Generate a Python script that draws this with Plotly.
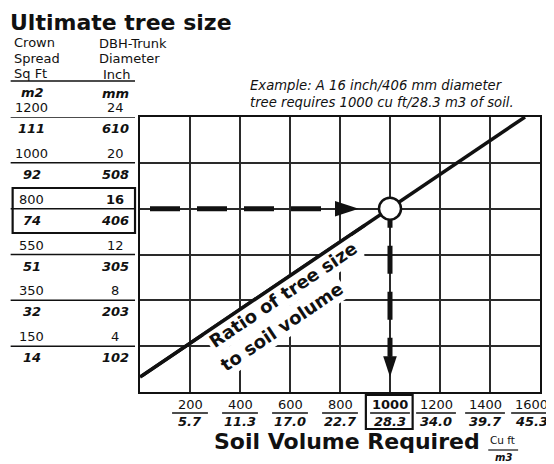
import numpy as np
import plotly.graph_objects as go

# ---------------- data ----------------
dbh_inch = [4, 8, 12, 16, 20, 24]
dbh_mm = [102, 203, 305, 406, 508, 610]
crown_sqft = [150, 350, 550, 800, 1000, 1200]
crown_m2 = [14, 32, 51, 74, 92, 111]
soil_cuft = [200, 400, 600, 800, 1000, 1200, 1400, 1600]
soil_m3 = [5.7, 11.3, 17.0, 22.7, 28.3, 34.0, 39.7, 45.3]
ratio_cuft = [0, 1540]
ratio_dbh = [1.3, 24]
example_cuft = 1000
example_dbh = 16
arrow_h_start_cuft = 40
arrow_h_tip_cuft = 875
arrow_v_tip_dbh = 1.3
ratio_label_lines = ["Ratio of tree size", "to soil volume"]
ratio_label_pos = [(573, 8.55), (567, 5.75)]   # (cu ft, inch) centre of each label line

# ---------------- layout constants ----------------
PAGE_OFF = 8                      # default body margin of the html page
W, H = 554 - PAGE_OFF, 464 - PAGE_OFF
PLOT_L, PLOT_R, PLOT_T, PLOT_B = 140, 542, 117, 392   # plot area in window px
ML, MT = PLOT_L - PAGE_OFF, PLOT_T - PAGE_OFF
MR, MB = W - (PLOT_R - PAGE_OFF), H - (PLOT_B - PAGE_OFF)
PW, PH = PLOT_R - PLOT_L, PLOT_B - PLOT_T
X_MAX, Y_MAX = 1600, 24
FONT = "DejaVu Sans"
INK = "#111111"
HEAD = 24  # arrow head length in px


def px(x):
    return (x - PLOT_L) / PW


def py(y):
    return (PLOT_B - y) / PH


def cap_y(cap_top, size):
    return py(cap_top - 0.2 * size)


fig = go.Figure()

# ratio line
fig.add_trace(go.Scatter(x=ratio_cuft, y=ratio_dbh, mode="lines",
                         line=dict(color=INK, width=3.5), hoverinfo="skip"))

# horizontal dashed arrow
h_end = arrow_h_tip_cuft - HEAD * X_MAX / PW
fig.add_trace(go.Scatter(x=[arrow_h_start_cuft, h_end], y=[example_dbh, example_dbh],
                         mode="lines", line=dict(color=INK, width=5, dash="30px,17px"),
                         hoverinfo="skip"))
fig.add_trace(go.Scatter(x=[arrow_h_tip_cuft], y=[example_dbh], mode="markers",
                         marker=dict(symbol="arrow", size=25, angle=90, color=INK),
                         hoverinfo="skip"))

# vertical dashed arrow
v_start = example_dbh + 9 * Y_MAX / PH
v_end = arrow_v_tip_dbh + HEAD * Y_MAX / PH * 0.85
fig.add_trace(go.Scatter(x=[example_cuft, example_cuft], y=[v_start, v_end],
                         mode="lines", line=dict(color=INK, width=5, dash="28px,18px"),
                         hoverinfo="skip"))
fig.add_trace(go.Scatter(x=[example_cuft], y=[arrow_v_tip_dbh], mode="markers",
                         marker=dict(symbol="arrow", size=22, angle=180, color=INK),
                         hoverinfo="skip"))

# example circle
fig.add_trace(go.Scatter(x=[example_cuft], y=[example_dbh], mode="markers",
                         marker=dict(symbol="circle", size=22, color="white",
                                     line=dict(color=INK, width=2.5)),
                         hoverinfo="skip"))

ann = []
shapes = []


def text(t, x, y, size, xanchor="left", yanchor="top", xref="paper", yref="paper",
         bold=False, italic=False, **kw):
    if bold:
        t = f"<b>{t}</b>"
    if italic:
        t = f"<i>{t}</i>"
    kw.setdefault("borderpad", 0)
    ann.append(dict(text=t, x=x, y=y, xref=xref, yref=yref, xanchor=xanchor,
                    yanchor=yanchor, showarrow=False,
                    font=dict(family=FONT, size=size, color=INK), **kw))


def hline_paper(x0, x1, y, width=1.5):
    shapes.append(dict(type="line", xref="paper", yref="paper", x0=px(x0), x1=px(x1),
                       y0=py(y), y1=py(y), line=dict(color=INK, width=width)))


# title
text("Ultimate tree size", px(PAGE_OFF), cap_y(13, 22), 22, bold=True)

# left header
text("Crown", px(12), cap_y(37, 13), 13)
text("Spread", px(12), cap_y(52.5, 13), 13)
text("Sq Ft", px(12), cap_y(68, 13), 13)
text("DBH-Trunk", px(98), cap_y(37.5, 13), 13)
text("Diameter", px(98), cap_y(53, 13), 13)
text("Inch", px(102), cap_y(68.5, 13), 13)
hline_paper(10, 135, 81)
text("m2", px(32), cap_y(87, 13), 13, xanchor="center", bold=True, italic=True)
text("mm", px(115), cap_y(88, 13), 13, xanchor="center", bold=True, italic=True)

# left value labels
for i, lvl in enumerate(dbh_inch):
    text(str(crown_sqft[i]), px(31), lvl, 13, xanchor="center", yanchor="bottom", yref="y",
         yshift=1)
    text(str(crown_m2[i]), px(31), lvl, 13, xanchor="center", yanchor="top", yref="y",
         bold=True, italic=True, yshift=-3)
    text(str(dbh_inch[i]), px(115), lvl, 13, xanchor="center", yanchor="bottom", yref="y",
         bold=(lvl == example_dbh), yshift=1)
    text(str(dbh_mm[i]), px(115), lvl, 13, xanchor="center", yanchor="top", yref="y",
         bold=True, italic=True, yshift=-3)
    shapes.append(dict(type="line", xref="paper", yref="y", x0=px(10), x1=px(135),
                       y0=lvl, y1=lvl, line=dict(color=INK, width=1.5)))

# box around example row on left
shapes.append(dict(type="rect", xref="paper", yref="paper", x0=px(12), x1=px(135),
                   y0=py(233), y1=py(188), line=dict(color=INK, width=2.2)))

# bottom value labels
nudge = {1200: -4, 1400: -5, 1600: -9}
for i, v in enumerate(soil_cuft):
    n = nudge.get(v, 0)
    text(str(v), v, py(413), 13, xanchor="center", yanchor="bottom", xref="x",
         bold=(v == example_cuft), xshift=n)
    text(f"{soil_m3[i]:.1f}", v, py(413), 13, xanchor="center", yanchor="top", xref="x",
         bold=True, italic=True, xshift=n)
    half = 18 if v < 1000 else 20
    xc = v / X_MAX + n / PW
    shapes.append(dict(type="line", xref="paper", yref="paper", x0=xc - half / PW,
                       x1=xc + half / PW, y0=py(413), y1=py(413),
                       line=dict(color=INK, width=1.5)))

# box around example column at bottom
shapes.append(dict(type="rect", xref="paper", yref="paper", x0=px(367), x1=px(414),
                   y0=py(429), y1=py(395), line=dict(color=INK, width=2.2)))

# axis title
text("Soil Volume Required", px(213), cap_y(432, 22), 22, bold=True)
text("Cu ft", px(504), cap_y(435, 10.5), 10.5, xanchor="center")
hline_paper(490, 520, 450, width=1.2)
text("m3", px(505), cap_y(452.5, 10), 10, xanchor="center", bold=True, italic=True)

# example note
text("Example: A 16 inch/406 mm diameter<br>tree requires 1000 cu ft/28.3 m3 of soil.",
     px(250), cap_y(80, 13.2), 13.2, italic=True, align="left")

# ratio label (white knock-out behind the text, as in the printed chart)
for line_txt, (lx, ly) in zip(ratio_label_lines, ratio_label_pos):
    text(line_txt, lx, ly, 18, xanchor="center", yanchor="middle", xref="x", yref="y",
         bold=True, textangle=-34, bgcolor="white", borderpad=2)

# redraw the part of the ratio line next to the label on top of the knock-out
seg_end_x = 900
seg_end_y = float(np.interp(seg_end_x, ratio_cuft, ratio_dbh))
ann.append(dict(text="", x=seg_end_x, y=seg_end_y, ax=ratio_cuft[0], ay=ratio_dbh[0],
                xref="x", yref="y", axref="x", ayref="y", showarrow=True, arrowhead=0,
                arrowwidth=3.5, arrowcolor=INK, standoff=0, startstandoff=0))

fig.update_layout(
    width=W, height=H,
    margin=dict(l=ML, r=MR, t=MT, b=MB, pad=0),
    paper_bgcolor="white", plot_bgcolor="white",
    showlegend=False,
    annotations=ann, shapes=shapes,
    xaxis=dict(range=[0, X_MAX], tick0=0, dtick=200, showgrid=True, gridcolor="#2a2a2a",
               gridwidth=1.5, showline=True, mirror=True, linecolor=INK, linewidth=2,
               showticklabels=False, ticks="", zeroline=False, fixedrange=True),
    yaxis=dict(range=[0, Y_MAX], tick0=0, dtick=4, showgrid=True, gridcolor="#2a2a2a",
               gridwidth=1.5, showline=True, mirror=True, linecolor=INK, linewidth=2,
               showticklabels=False, ticks="", zeroline=False, fixedrange=True),
)

fig.write_html("out.html")
